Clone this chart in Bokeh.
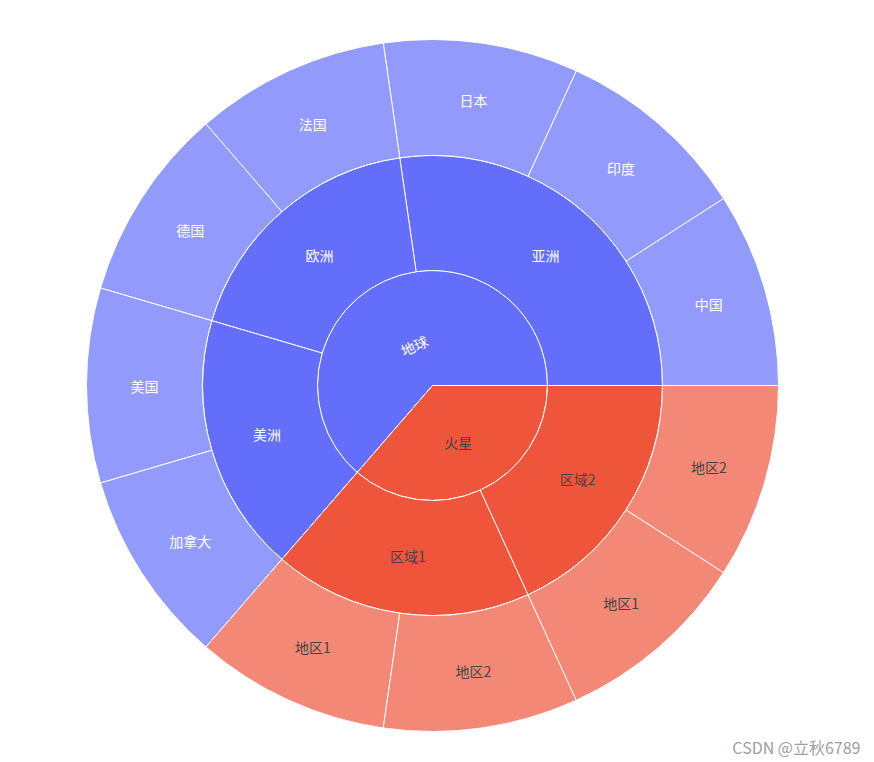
import math
from bokeh.plotting import figure
from bokeh.models import Range1d, ColumnDataSource
from bokeh.core.properties import value
from bokeh.embed import file_html
from bokeh.resources import INLINE

# ---- data ----
ids = ["地球", "火星", "亚洲", "欧洲", "美洲", "区域1", "区域2",
       "中国", "印度", "日本", "法国", "德国", "美国", "加拿大",
       "区域1-地区1", "区域1-地区2", "区域2-地区1", "区域2-地区2"]
labels = ["地球", "火星", "亚洲", "欧洲", "美洲", "区域1", "区域2",
          "中国", "印度", "日本", "法国", "德国", "美国", "加拿大",
          "地区1", "地区2", "地区1", "地区2"]
parents = ["", "", "地球", "地球", "地球", "火星", "火星",
           "亚洲", "亚洲", "亚洲", "欧洲", "欧洲", "美洲", "美洲",
           "区域1", "区域1", "区域2", "区域2"]
leaf_values = [1] * 11  # each leaf counted once

# ---- layout helpers ----
W, H = 874, 762
CX, CY = 432, H - 385
RADII = [(0, 115), (115, 230), (230, 346)]
BASE = {"地球": "#636efa", "火星": "#EF553B"}
TEXT = {"地球": "white", "火星": "#444444"}

children = {}
for i, pa in zip(ids, parents):
    children.setdefault(pa, []).append(i)

leaf_ids = [i for i in ids if i not in children]
val = {i: v for i, v in zip(leaf_ids, leaf_values)}


def total(n):
    if n in val:
        return val[n]
    s = sum(total(c) for c in children[n])
    val[n] = s
    return s


for r in children[""]:
    total(r)
grand = sum(val[r] for r in children[""])


def lighten(hexc, a=0.7):
    h = hexc.lstrip("#")
    rgb = [int(h[k:k + 2], 16) for k in (0, 2, 4)]
    out = [round(a * c + (1 - a) * 255) for c in rgb]
    return "#%02x%02x%02x" % tuple(out)


rows = dict(x=[], y=[], ir=[], orr=[], sa=[], ea=[], color=[])
trows = dict(x=[], y=[], text=[], angle=[], color=[])
lab = dict(zip(ids, labels))


def place(n, start, depth, root):
    span = val[n] / grand * 2 * math.pi
    end = start + span
    ir, orr = RADII[depth]
    is_leaf = n not in children
    col = BASE[root]
    if is_leaf and depth > 0:
        col = lighten(col)
    rows["x"].append(CX); rows["y"].append(CY)
    rows["ir"].append(ir); rows["orr"].append(orr)
    rows["sa"].append(start); rows["ea"].append(end)
    rows["color"].append(col)
    mid = (start + end) / 2
    if depth == 0:
        if n == "地球":
            tr, ang = 44, mid - math.pi / 2
        else:
            tr, ang = 62, 0
    else:
        tr, ang = (ir + orr) / 2, 0
    trows["x"].append(CX + tr * math.cos(mid))
    trows["y"].append(CY + tr * math.sin(mid))
    trows["text"].append(lab[n])
    trows["angle"].append(ang)
    trows["color"].append(TEXT[root])
    s = start
    for c in children.get(n, []):
        place(c, s, depth + 1, root)
        s += val[c] / grand * 2 * math.pi
    return end


a = 0.0
for r in children[""]:
    a = place(r, a, 0, r)

p = figure(width=W, height=H, x_range=Range1d(0, W), y_range=Range1d(0, H),
           output_backend="svg", toolbar_location=None, min_border=0)
p.axis.visible = False
p.grid.visible = False
p.outline_line_color = None
p.background_fill_color = "white"

src = ColumnDataSource(rows)
p.annular_wedge(x="x", y="y", inner_radius="ir", outer_radius="orr",
                start_angle="sa", end_angle="ea", fill_color="color",
                line_color="white", line_width=1, source=src)

tsrc = ColumnDataSource(trows)
p.text(x="x", y="y", text="text", angle="angle", text_color="color",
       text_font=value("Noto Sans CJK SC"), text_font_size="14px",
       text_align="center", text_baseline="middle", source=tsrc)

p.text(x=[860], y=[H - 746], text=["CSDN @立秋6789"], text_color="#a0a0a0",
       text_font=value("Noto Sans CJK SC"), text_font_size="16px",
       text_align="right", text_baseline="middle")

open("out.html", "w").write(file_html(p, INLINE))
